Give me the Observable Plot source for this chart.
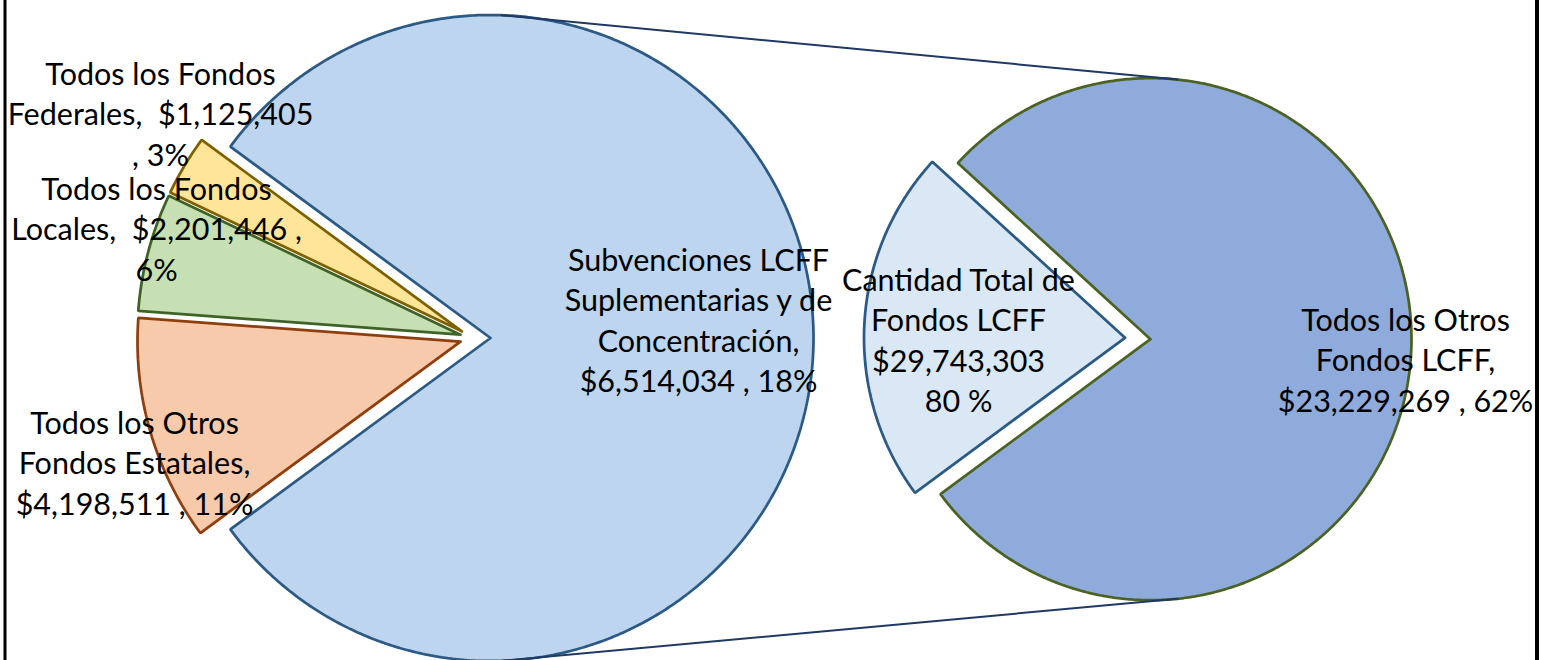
<!DOCTYPE html>
<html><head><meta charset="utf-8">
<script src="https://cdn.jsdelivr.net/npm/d3@7"></script>
<script src="https://cdn.jsdelivr.net/npm/@observablehq/plot@0.6"></script>
<style>body{margin:0;background:#fff;overflow:hidden}#chart svg{display:block}#chart text,#chart tspan{white-space:pre}</style>
</head><body><div id="chart"></div>
<script>
// ---- data ----
const leftCategories = ["Todos los Fondos Federales", "Todos los Fondos Locales", "Todos los Otros Fondos Estatales", "Cantidad Total de Fondos LCFF"];
const leftValues = [1125405, 2201446, 4198511, 29743303];
const rightCategories = ["Subvenciones LCFF Suplementarias y de Concentración", "Todos los Otros Fondos LCFF"];
const rightValues = [6514034, 23229269];
const leftLabels = [
  "Todos los Fondos\nFederales,  $1,125,405\n, 3%",
  "Todos los Fondos\nLocales,  $2,201,446 ,\n6%",
  "Todos los Otros\nFondos Estatales,\n$4,198,511 , 11%",
  "Subvenciones LCFF\nSuplementarias y de\nConcentración,\n$6,514,034 , 18%"
];
const rightLabels = [
  "Cantidad Total de\nFondos LCFF\n$29,743,303\n80 %",
  "Todos los Otros\nFondos LCFF,\n$23,229,269 , 62%"
];

// ---- styles / layout ----
const leftFill = ["#FFE597", "#C6DFB3", "#F7CAAB", "#BDD5EE"];
const leftStroke = ["#7F6000", "#3F6327", "#8E3F0E", "#2C5A86"];
const rightFill = ["#DAE7F5", "#8FABDB"];
const rightStroke = ["#2C5A86", "#4B6223"];

const L = {cx: 472.5, cy: 337.5, r: 323, explode: [13, 13, 13, 17.5]};
const R = {cx: 1137.5, cy: 338, r: 261, explode: [13, 12.5]};
const leftLabelPos = [[160, 112], [156, 227], [134, 461], [698, 318]];
const rightLabelPos = [[958, 338], [1405, 358]];

const rad = d => d * Math.PI / 180;

// slices: order of angular sweep (clockwise on screen)
function slices(values, order, startDeg, C) {
  const total = d3.sum(values);
  let a = startDeg;
  const out = [];
  for (const i of order) {
    const sweep = values[i] / total * 360;
    const a0 = a, a1 = a + sweep;
    const mid = (a0 + a1) / 2;
    const ox = C.cx + C.explode[i] * Math.cos(rad(mid));
    const oy = C.cy + C.explode[i] * Math.sin(rad(mid));
    const pts = [{x: ox, y: oy}];
    const n = Math.max(2, Math.ceil(sweep / 0.5));
    for (let k = 0; k <= n; k++) {
      const t = rad(a0 + (a1 - a0) * k / n);
      pts.push({x: ox + C.r * Math.cos(t), y: oy + C.r * Math.sin(t)});
    }
    pts.push({x: ox, y: oy});
    out[i] = {pts, ox, oy, a0, a1};
    a = a1;
  }
  return out;
}

const leftTotal = d3.sum(leftValues);
const bigSweep = leftValues[3] / leftTotal * 360;
const leftSlices = slices(leftValues, [3, 2, 1, 0], -bigSweep / 2, L);
const rightTotal = d3.sum(rightValues);
const lightSweep = rightValues[0] / rightTotal * 360;
const rightSlices = slices(rightValues, [0, 1], 183 - lightSweep / 2, R);

// connector lines (from big left slice to secondary pie)
const big = leftSlices[3], dark = rightSlices[1];
const connectors = [-88, 88].map((a, i) => {
  const b = i === 0 ? -84 : 84;
  return [
    {x: big.ox + L.r * Math.cos(rad(a)), y: big.oy + L.r * Math.sin(rad(a)), k: i},
    {x: dark.ox + R.r * Math.cos(rad(b)), y: dark.oy + R.r * Math.sin(rad(b)), k: i}
  ];
}).flat();

const labelData = [
  ...leftLabels.map((t, i) => ({text: t, x: leftLabelPos[i][0], y: leftLabelPos[i][1]})),
  ...rightLabels.map((t, i) => ({text: t, x: rightLabelPos[i][0], y: rightLabelPos[i][1]}))
];

const marks = [];
leftSlices.forEach((s, i) => marks.push(Plot.line(s.pts, {x: "x", y: "y", fill: leftFill[i], stroke: leftStroke[i], strokeWidth: 2.75, strokeLinejoin: "miter"})));
rightSlices.forEach((s, i) => marks.push(Plot.line(s.pts, {x: "x", y: "y", fill: rightFill[i], stroke: rightStroke[i], strokeWidth: 2.75, strokeLinejoin: "miter"})));
marks.push(Plot.line(connectors, {x: "x", y: "y", z: "k", stroke: "#1F3864", strokeWidth: 2}));
marks.push(Plot.ruleX([4.5], {stroke: "#000", strokeWidth: 3}));
marks.push(Plot.ruleX([1536.5], {stroke: "#000", strokeWidth: 4}));
marks.push(Plot.text(labelData, {x: "x", y: "y", text: "text", fill: "#000", fontSize: 30.5, lineHeight: 1.33, textAnchor: "middle", lineAnchor: "middle", fontFamily: "Lato"}));

const chart = Plot.plot({
  width: 1543, height: 660, margin: 0,
  x: {domain: [0, 1543], axis: null},
  y: {domain: [660, 0], axis: null},
  style: {background: "#fff", fontFamily: "Lato"},
  marks
});
document.getElementById("chart").append(chart);
</script>
</body></html>
